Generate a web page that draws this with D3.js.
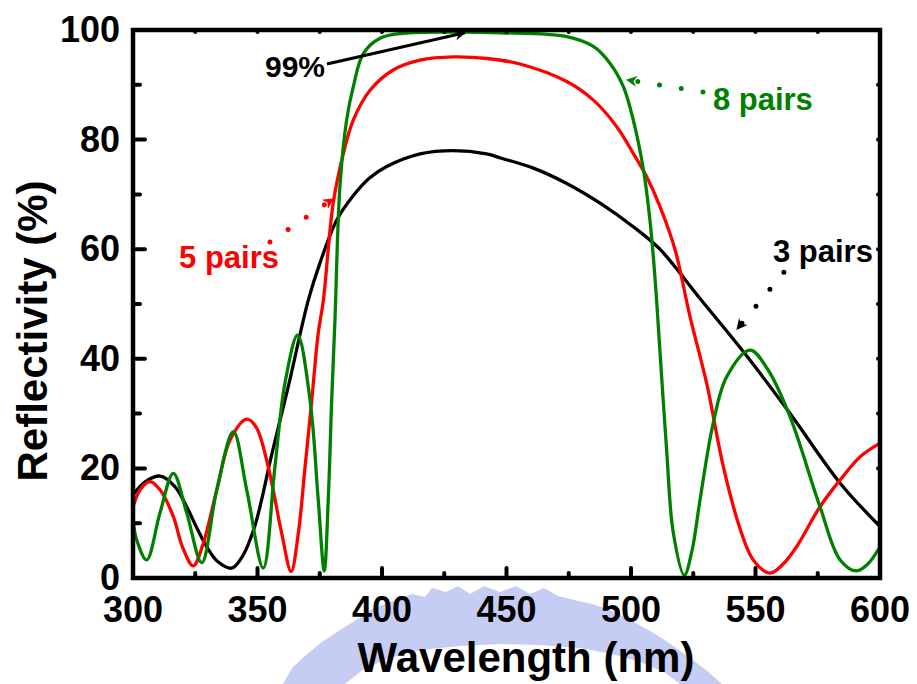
<!DOCTYPE html>
<html>
<head>
<meta charset="utf-8">
<script src="https://cdn.jsdelivr.net/npm/d3@7"></script>
<style>
  html, body { margin: 0; padding: 0; background: #fff; }
  svg { display: block; font-family: "Liberation Sans", Arial, sans-serif; font-weight: bold; }
</style>
</head>
<body>
<svg id="chart" width="917" height="684"></svg>
<script>
// reflectivity spectra, [wavelength nm, R %]
const pairs3 = [[300,15.2],[305,17.6],[311,18.6],[317,16.6],[322,12.6],[326,8.8],[330,5.4],[334,3],[339.6,1.8],[344,4],[349,9.6],[355.7,22.5],[362.4,35],[370.4,50.7],[375.1,57.5],[381.8,65.3],[388.5,69.8],[395,73],[401.9,75.1],[415.3,77.4],[428.6,78],[442,77.4],[448,76.6],[460.8,74.8],[474.2,72],[487.6,68.4],[500.9,64.1],[511.6,60],[527.7,51],[546.5,40.5],[563.9,30],[584,17.3],[600,9.4]];
const pairs5 = [[300,13],[303,16.2],[306.8,17.6],[311,16],[316.2,11.2],[320,5.5],[324.2,2.2],[328,6],[333.6,16],[339,25.2],[345.7,29],[349.5,27.5],[354.3,20.3],[359.7,8.2],[363.5,1.2],[366.4,8.2],[369.1,20.3],[371.8,32.5],[374.4,44.7],[376.4,50.5],[380.4,68.4],[384.5,77.5],[388.5,83.6],[395.2,89],[404.5,92.7],[415.3,94.5],[428.6,95.1],[442,94.8],[455.4,93.8],[474.2,90.6],[484.9,87.2],[494.2,82.4],[500.9,77.5],[506.3,73.2],[511.6,67.8],[517.7,59.9],[523.7,47.7],[530.4,35.5],[537.1,20.3],[543.8,9],[549.1,3.3],[555.8,0.9],[561,2.5],[566.5,5.7],[575.9,13],[584,17.9],[592,22.1],[600,24.6]];
const pairs8 = [[300,10.5],[301.5,6.9],[305.5,3.3],[310.8,11.8],[316.2,19.1],[321.6,11.8],[327.6,2.8],[333.6,16],[340.3,26.7],[345.7,16],[352.3,1.8],[357,20.3],[361,35.5],[366.1,44.3],[371.1,32.5],[374.4,14.2],[376.8,1.3],[378.4,14.2],[379.8,32.5],[381.1,47],[383.1,71.4],[385.8,83.6],[388.5,89.7],[392.5,95.7],[399.2,98.5],[408.6,99.4],[430,99.6],[447.4,99.5],[474.2,98.8],[484.9,97],[491.6,93.9],[496.9,89.7],[500.9,83.6],[505,74.5],[507.6,65.3],[509.6,55],[511.6,41.6],[514.3,23.4],[517,8.2],[521.4,0.5],[524.5,5],[527.7,14.2],[533,28.2],[538.4,36.7],[547.8,41.6],[555,38],[563.9,29.4],[575.9,13],[584,3.3],[590.6,1.3],[595,2.5],[600,5.7]];

const series = [
  { name: '3 pairs', color: '#000000', data: pairs3 },
  { name: '5 pairs', color: '#ff0000', data: pairs5 },
  { name: '8 pairs', color: '#008000', data: pairs8 }
];

const xTicks = [300, 350, 400, 450, 500, 550, 600];
const yTicks = [0, 20, 40, 60, 80, 100];

// annotations: text start + arrow (from -> to), in data units
const notes = [
  { text: '99%',     color: '#000000', at: [353, 91.4],   from: [377.9, 93.8], to: [433.3, 99.5], dotted: false, size: 30 },
  { text: '5 pairs', color: '#ff0000', at: [318.5, 56.6], from: [355, 61.3],   to: [380.3, 69.2], dotted: true,  size: 31 },
  { text: '8 pairs', color: '#008000', at: [532.9, 85.4], from: [528.9, 88.7], to: [498.4, 90.9], dotted: true,  size: 31 },
  { text: '3 pairs', color: '#000000', at: [557, 57.7],   from: [561.4, 55.8], to: [542.6, 45.4], dotted: true,  size: 31 }
];

const svg = d3.select('#chart');
const m = { l: 133, t: 30, r: 37, b: 106 };
const W = 917 - m.l - m.r, H = 684 - m.t - m.b;

// faint logo watermark behind the x title (decoration only)
svg.append('path')
  .attr('d', 'M283,684 L292,668 L306,655 L322,642 L340,630 L356,620 L374,608 L396,600 L412,594 L425,597 L432,588 L446,592 ' +
             'L458,586 L470,594 L484,586 L500,592 L516,586 L530,594 L544,588 L558,596 L574,600 L592,604 L610,610 ' +
             'L630,620 L652,632 L672,645 L690,658 L706,670 L722,684 L680,684 L664,672 L640,662 L612,654 L580,648 ' +
             'L540,645 L500,644 L460,646 L420,650 L390,658 L365,668 L345,684 Z')
  .attr('fill', '#b3bcf0').attr('opacity', 0.75);

const x = d3.scaleLinear().domain([300, 600]).range([0, W]);
const y = d3.scaleLinear().domain([0, 100]).range([H, 0]);

const g = svg.append('g').attr('transform', `translate(${m.l},${m.t})`);

const line = d3.line()
  .x(d => x(d[0]))
  .y(d => y(d[1]))
  .curve(d3.curveCatmullRom.alpha(0.5));

g.selectAll('path.curve')
  .data(series)
  .join('path')
    .attr('class', 'curve')
    .attr('fill', 'none')
    .attr('stroke', d => d.color)
    .attr('stroke-width', 3.3)
    .attr('stroke-linejoin', 'round')
    .attr('d', d => line(d.data));

// ticks pointing inward, minor ones shorter
const xMinor = d3.range(325, 600, 50);
const yMinor = d3.range(10, 100, 20);
function tickLines(sel, vals, horiz, len, pos) {
  sel.selectAll(null).data(vals).join('line')
    .attr('x1', d => horiz ? x(d) : pos)
    .attr('x2', d => horiz ? x(d) : pos + len)
    .attr('y1', d => horiz ? pos : y(d))
    .attr('y2', d => horiz ? pos - len : y(d))
    .attr('stroke', '#000').attr('stroke-width', 4).attr('stroke-linecap', 'round');
}
const ticks = g.append('g');
tickLines(ticks, xTicks, true, 10, H);
tickLines(ticks, xMinor, true, 5, H);
tickLines(ticks, yTicks, false, 12, 0);
tickLines(ticks, yMinor, false, 7, 0);
tickLines(ticks, xTicks.concat(xMinor), true, -2, 0);
tickLines(ticks, yTicks.concat(yMinor), false, -2, W);

// frame
g.append('rect')
  .attr('width', W).attr('height', H)
  .attr('fill', 'none').attr('stroke', '#000').attr('stroke-width', 4.5);

g.selectAll('text.xt').data(xTicks).join('text')
  .attr('class', 'xt')
  .attr('x', d => x(d)).attr('y', H + 44)
  .attr('text-anchor', 'middle').attr('font-size', 36)
  .text(d => d);

g.selectAll('text.yt').data(yTicks).join('text')
  .attr('class', 'yt')
  .attr('x', -13).attr('y', d => y(d) + 12)
  .attr('text-anchor', 'end').attr('font-size', 36)
  .text(d => d);

svg.append('text')
  .attr('x', 526).attr('y', 672)
  .attr('text-anchor', 'middle').attr('font-size', 42)
  .text('Wavelength (nm)');

svg.append('text')
  .attr('transform', 'translate(47,331) rotate(-90)')
  .attr('text-anchor', 'middle').attr('font-size', 42)
  .text('Reflectivity (%)');

// arrowheads
const defs = svg.append('defs');
notes.forEach((n, i) => {
  defs.append('marker')
    .attr('id', 'ah' + i)
    .attr('viewBox', '0 0 10 10').attr('refX', 9).attr('refY', 5)
    .attr('markerWidth', 15).attr('markerHeight', 11)
    .attr('markerUnits', 'userSpaceOnUse')
    .attr('orient', 'auto')
    .append('path').attr('d', 'M0,0 L10,5 L0,10 L3,5 Z').attr('fill', n.color);
});

const ann = g.append('g');
notes.forEach((n, i) => {
  ann.append('line')
    .attr('x1', x(n.from[0])).attr('y1', y(n.from[1]))
    .attr('x2', x(n.to[0])).attr('y2', y(n.to[1]))
    .attr('stroke', n.color)
    .attr('stroke-width', n.dotted ? 5 : 3)
    .attr('stroke-linecap', n.dotted ? 'round' : 'butt')
    .attr('stroke-dasharray', n.dotted ? '0,22' : null)
    .attr('marker-end', `url(#ah${i})`);
  ann.append('text')
    .attr('x', x(n.at[0])).attr('y', y(n.at[1]))
    .attr('font-size', n.size).attr('fill', n.color)
    .text(n.text);
});
</script>
</body>
</html>
